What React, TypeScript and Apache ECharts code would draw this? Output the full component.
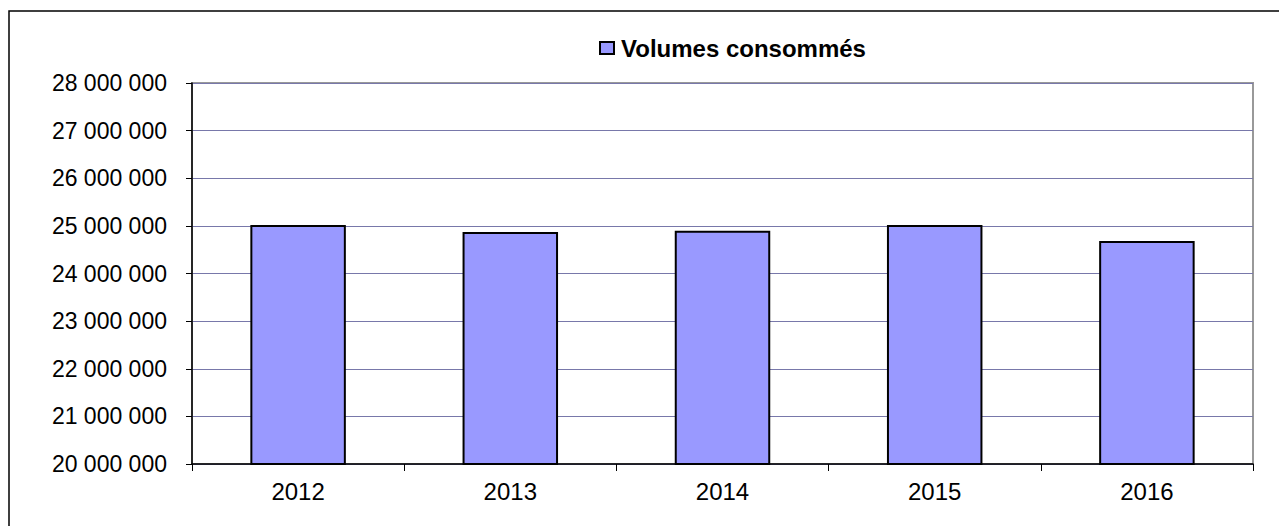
import React, { useEffect, useRef } from "react";
import * as echarts from "echarts";

const categories = ["2012", "2013", "2014", "2015", "2016"];
const volumes = [25020000, 24870000, 24900000, 25020000, 24680000];
const seriesName = "Volumes consommés";

function fmt(v: number): string {
  return String(Math.round(v)).replace(/\B(?=(\d{3})+(?!\d))/g, " ");
}

export default function App() {
  const ref = useRef<HTMLDivElement>(null);
  useEffect(() => {
    const chart = echarts.init(ref.current!, null, { renderer: "svg" });
    chart.setOption({
      animation: false,
      backgroundColor: "#ffffff",
      textStyle: { fontFamily: "Liberation Sans, Arial, sans-serif" },
      graphic: [
        {
          type: "rect",
          shape: { x: 1, y: 3, width: 1400, height: 600 },
          style: { fill: "none", stroke: "#000000", lineWidth: 1.5 },
          silent: true,
        },
        {
          type: "rect",
          shape: { x: 184, y: 75, width: 1061, height: 381 },
          style: { fill: "none", stroke: "#999999", lineWidth: 2 },
          silent: true,
          z: -1,
        },
      ],
      legend: {
        top: 23,
        left: 586,
        itemWidth: 14,
        itemHeight: 12,
        itemGap: 4,
        textStyle: {
          fontSize: 24,
          fontWeight: "bold",
          color: "#000",
          padding: [0, 0, 0, 2],
          fontFamily: "Liberation Sans, Arial, sans-serif",
        },
        data: [{ name: seriesName, icon: "rect" }],
      },
      grid: { left: 184, right: 1279 - 1245, top: 75, bottom: 518 - 456, containLabel: false },
      xAxis: {
        type: "category",
        data: categories,
        boundaryGap: true,
        axisLine: { lineStyle: { color: "#000", width: 1.5 } },
        axisTick: { show: true, length: 7, lineStyle: { color: "#000" } },
        axisLabel: { fontSize: 24, color: "#000", margin: 15 },
      },
      yAxis: {
        type: "value",
        min: 20000000,
        max: 28000000,
        interval: 1000000,
        axisLine: { show: true, lineStyle: { color: "#000", width: 1.5 } },
        axisTick: { show: true, length: 6, inside: false, lineStyle: { color: "#000" } },
        axisLabel: { fontSize: 23, color: "#000", margin: 25, formatter: (v: number) => fmt(v) },
        splitLine: { show: true, lineStyle: { color: "#7878aa", width: 1 } },
      },
      series: [
        {
          name: seriesName,
          type: "bar",
          data: volumes,
          barWidth: "45%",
          itemStyle: { color: "#9999ff", borderColor: "#000", borderWidth: 2 },
        },
      ],
    });
    return () => chart.dispose();
  }, []);
  return <div ref={ref} style={{ width: 1279, height: 518 }} />;
}
